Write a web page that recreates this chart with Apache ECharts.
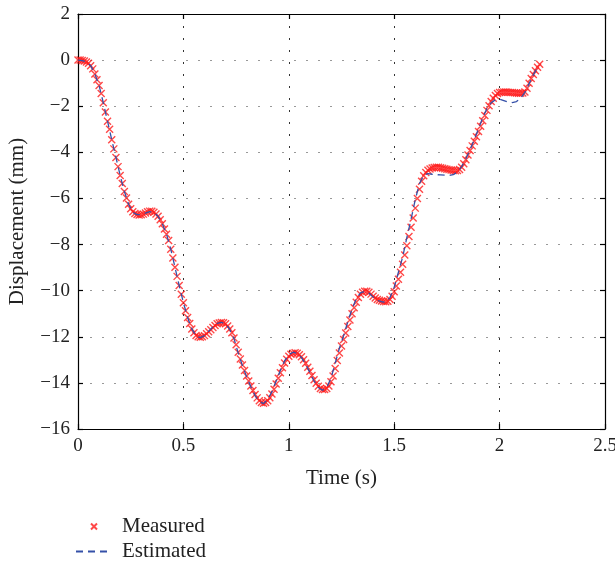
<!DOCTYPE html>
<html><head><meta charset="utf-8">
<script src="https://cdn.jsdelivr.net/npm/echarts@6/dist/echarts.min.js"></script>
<style>html,body{margin:0;padding:0;background:#fff}#c{width:615px;height:565px}</style>
</head><body><div id="c"></div><script>
// sampling steps (s) of the two recorded signals
const measuredStep = 0.01;
const estimatedStep = 0.02;

// Measured displacement (mm), t = 0.00 ... 2.19 s
const measured = [
  0, 0, -0.02, -0.04, -0.08, -0.14, -0.24, -0.38, -0.6, -0.85,
  -1.1, -1.45, -1.85, -2.25, -2.65, -3.0, -3.45, -3.85, -4.22, -4.62,
  -5.0, -5.35, -5.7, -5.98, -6.25, -6.45, -6.58, -6.65, -6.7, -6.72,
  -6.71, -6.68, -6.63, -6.58, -6.55, -6.56, -6.6, -6.67, -6.77, -6.92,
  -7.1, -7.33, -7.55, -7.82, -8.2, -8.58, -8.98, -9.38, -9.78, -10.16,
  -10.52, -10.87, -11.16, -11.42, -11.66, -11.83, -11.94, -12.0, -12.02, -12.0,
  -11.95, -11.87, -11.78, -11.69, -11.6, -11.51, -11.44, -11.4, -11.38, -11.39,
  -11.44, -11.53, -11.66, -11.83, -12.05, -12.35, -12.67, -12.96, -13.22, -13.46,
  -13.7, -13.92, -14.13, -14.33, -14.5, -14.65, -14.77, -14.85, -14.88, -14.85,
  -14.77, -14.64, -14.48, -14.28, -14.05, -13.8, -13.56, -13.34, -13.14, -12.97,
  -12.84, -12.76, -12.71, -12.69, -12.71, -12.78, -12.87, -13.0, -13.15, -13.32,
  -13.5, -13.68, -13.86, -14.02, -14.15, -14.24, -14.29, -14.29, -14.24, -14.13,
  -13.95, -13.7, -13.38, -13.03, -12.7, -12.4, -12.12, -11.84, -11.55, -11.27,
  -11.0, -10.74, -10.5, -10.3, -10.16, -10.07, -10.03, -10.03, -10.07, -10.15,
  -10.24, -10.32, -10.38, -10.42, -10.45, -10.47, -10.48, -10.46, -10.38, -10.24,
  -10.05, -9.8, -9.5, -9.2, -8.85, -8.45, -8.05, -7.65, -7.25, -6.85,
  -6.42, -6.0, -5.6, -5.25, -5.02, -4.87, -4.78, -4.72, -4.68, -4.66,
  -4.65, -4.65, -4.67, -4.69, -4.71, -4.73, -4.75, -4.77, -4.79, -4.8,
  -4.79, -4.74, -4.65, -4.5, -4.32, -4.12, -3.92, -3.72, -3.52, -3.32,
  -3.1, -2.87, -2.63, -2.4, -2.18, -1.98, -1.8, -1.65, -1.53, -1.45,
  -1.41, -1.39, -1.38, -1.38, -1.39, -1.4, -1.41, -1.42, -1.43, -1.44,
  -1.44, -1.43, -1.38, -1.22, -1.0, -0.8, -0.62, -0.46, -0.31, -0.18
];

// Estimated displacement (mm), t = 0.00 ... 2.18 s
const estimated = [
  0, -0.02, -0.08, -0.24, -0.6, -1.1, -1.85, -2.65, -3.45, -4.22,
  -5.0, -5.7, -6.25, -6.6, -6.7, -6.7, -6.64, -6.57, -6.6, -6.77,
  -7.1, -7.55, -8.2, -8.98, -9.78, -10.52, -11.16, -11.66, -11.96, -12.04,
  -11.95, -11.76, -11.57, -11.42, -11.37, -11.44, -11.68, -12.08, -12.7, -13.25,
  -13.74, -14.17, -14.55, -14.8, -14.9, -14.72, -14.38, -13.92, -13.45, -13.05,
  -12.78, -12.67, -12.72, -12.9, -13.18, -13.55, -13.92, -14.2, -14.32, -14.2,
  -13.8, -13.15, -12.5, -11.95, -11.35, -10.8, -10.35, -10.1, -10.03, -10.1,
  -10.28, -10.42, -10.48, -10.5, -10.3, -9.85, -9.2, -8.55, -7.7, -6.9,
  -6.05, -5.35, -5.0, -4.92, -4.95, -4.97, -4.98, -4.99, -5.0, -4.97,
  -4.85, -4.62, -4.28, -3.88, -3.45, -2.98, -2.5, -2.1, -1.85, -1.72,
  -1.7, -1.76, -1.82, -1.84, -1.8, -1.65, -1.4, -1.02, -0.64, -0.3
];

const seriesNames = ['Measured', 'Estimated'];
const xAxisName = 'Time (s)';
const yAxisName = 'Displacement (mm)';

const FONT = 'Liberation Serif';
const BLUE = '#3550a8';
const toPairs = (arr, step) => arr.map((v, i) => [Math.round(i * step * 100) / 100, v]);
const minus = v => String(v).replace('-', '\u2212');

const chart = echarts.init(document.getElementById('c'), null, {renderer: 'canvas'});
const axisCommon = {
  axisLine: {show: true, onZero: false, lineStyle: {color: '#000', width: 1.2}},
  axisTick: {show: true, inside: true, length: 5, lineStyle: {color: '#000', width: 1.2}}
};
chart.setOption({
  animation: false,
  backgroundColor: '#fff',
  grid: {left: 78, right: 10, top: 14, bottom: 136, containLabel: false, outerBoundsMode: 'none'},
  legend: {
    orient: 'vertical', left: 75, top: 516, height: 49, padding: 0,
    itemWidth: 36, itemHeight: 6, itemGap: 4,
    data: [
      {name: seriesNames[0]},
      {name: seriesNames[1], itemStyle: {color: 'rgba(0,0,0,0)', borderWidth: 0, opacity: 0}}
    ],
    textStyle: {fontFamily: FONT, fontSize: 21, color: '#222', padding: [0, 0, 0, 5]}
  },
  xAxis: [
    Object.assign({
      type: 'value', min: 0, max: 2.5, interval: 0.5, position: 'bottom',
      name: xAxisName, nameLocation: 'middle', nameGap: 39,
      nameTextStyle: {fontFamily: FONT, fontSize: 21, color: '#222'},
      axisLabel: {fontFamily: FONT, fontSize: 19, color: '#222', margin: 8},
      splitLine: {show: true, lineStyle: {color: '#333', width: 1, type: [2, 10]}}
    }, axisCommon),
    Object.assign({
      type: 'value', min: 0, max: 2.5, interval: 0.5, position: 'top',
      axisLabel: {show: false}, splitLine: {show: false}
    }, axisCommon)
  ],
  yAxis: [
    Object.assign({
      type: 'value', min: -16, max: 2, interval: 2, position: 'left',
      name: yAxisName, nameLocation: 'middle', nameGap: 50,
      nameTextStyle: {fontFamily: FONT, fontSize: 21, color: '#222'},
      axisLabel: {fontFamily: FONT, fontSize: 19, color: '#222', margin: 8, formatter: minus},
      splitLine: {show: true, lineStyle: {color: '#999', width: 1, type: [2, 10]}}
    }, axisCommon),
    Object.assign({
      type: 'value', min: -16, max: 2, interval: 2, position: 'right',
      axisLabel: {show: false}, splitLine: {show: false}
    }, axisCommon)
  ],
  series: [
    {
      name: seriesNames[0], type: 'scatter', xAxisIndex: 0, yAxisIndex: 0,
      data: toPairs(measured, measuredStep),
      symbol: 'path://M0,0L10,10M10,0L0,10', symbolSize: 7, symbolKeepAspect: true,
      itemStyle: {color: 'rgba(0,0,0,0)', borderColor: '#ff1a1a', borderWidth: 1.4},
      z: 2
    },
    {
      name: seriesNames[1], type: 'line', xAxisIndex: 0, yAxisIndex: 0,
      data: toPairs(estimated, estimatedStep),
      symbol: 'none', smooth: false,
      lineStyle: {color: BLUE, width: 1.3, type: [7, 5]},
      itemStyle: {color: 'rgba(0,0,0,0)'},
      z: 3
    }
  ]
});
</script></body></html>
